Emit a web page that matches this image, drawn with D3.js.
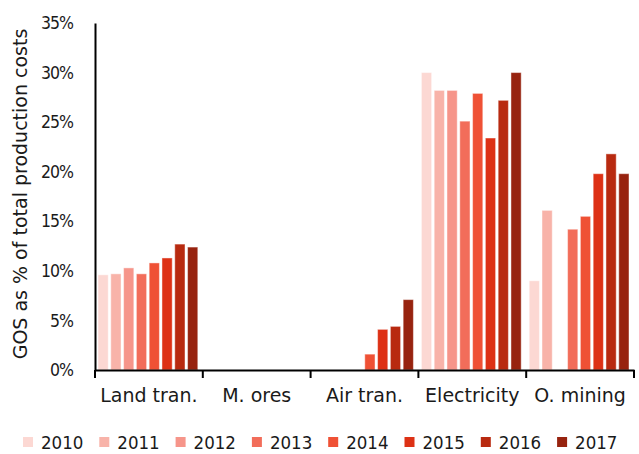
<!DOCTYPE html>
<html><head><meta charset="utf-8">
<script src="https://cdn.jsdelivr.net/npm/d3@7"></script>
<style>body{margin:0;background:#fff}svg{display:block;font-family:"DejaVu Sans",sans-serif}</style>
</head><body><svg id="c" width="639" height="454"></svg>
<script>
const categories = ["Land tran.", "M. ores", "Air tran.", "Electricity", "O. mining"];
const years = ["2010","2011","2012","2013","2014","2015","2016","2017"];
const colors = ["#fcd8d3","#f8b3a9","#f6958a","#f26d5a","#ef5135","#dd3115","#b82a10","#97230f"];
const yTicks = [0,0.05,0.10,0.15,0.20,0.25,0.30,0.35];
// values per year, in category order (null = no data)
const v2010 = [0.096, null, null, 0.300, 0.090];
const v2011 = [0.097, null, null, 0.282, 0.161];
const v2012 = [0.103, null, null, 0.282, null];
const v2013 = [0.097, null, null, 0.251, 0.142];
const v2014 = [0.108, null, 0.016, 0.279, 0.155];
const v2015 = [0.113, null, 0.041, 0.234, 0.198];
const v2016 = [0.127, null, 0.044, 0.272, 0.218];
const v2017 = [0.124, null, 0.071, 0.300, 0.198];
const series = [v2010,v2011,v2012,v2013,v2014,v2015,v2016,v2017];

const COND = '"DejaVu Sans Condensed","DejaVu Sans",sans-serif';
const REG = '"DejaVu Sans",sans-serif';
const svg = d3.select("#c");
const mLeft = 95, mRight = 634, mTop = 23, mBottom = 370;
const x0 = d3.scaleBand().domain(categories).range([mLeft, mRight]).padding(0);
const x1 = d3.scaleBand().domain(years).range([3, x0.bandwidth()-5]).paddingInner(0.2).paddingOuter(0);
const y = d3.scaleLinear().domain([0,0.35]).range([mBottom, mTop]);

const data = [];
categories.forEach((c,i)=>years.forEach((yr,j)=>{ if(series[j][i]!=null) data.push({c,yr,v:series[j][i],col:colors[j]}); }));

svg.append("g").selectAll("rect").data(data).join("rect")
  .attr("x", d=>x0(d.c)+x1(d.yr))
  .attr("y", d=>y(d.v))
  .attr("width", x1.bandwidth())
  .attr("height", d=>y(0)-y(d.v))
  .attr("fill", d=>d.col)
  .attr("stroke","#ffffff").attr("stroke-opacity",0.45).attr("stroke-width",1);

// y axis
const ya = svg.append("g").attr("transform",`translate(${mLeft},0)`)
  .call(d3.axisLeft(y).tickValues(yTicks).tickFormat(d3.format(".0%")).tickSize(0).tickPadding(22));
ya.select(".domain").attr("stroke","#000").attr("stroke-width",2);
ya.selectAll("text").attr("font-size",17.5).attr("letter-spacing",-1).attr("fill","#1a1a1a").attr("font-family",COND);

// x axis
const xa = svg.append("g").attr("transform",`translate(0,${mBottom})`)
  .call(d3.axisBottom(x0).tickSize(0).tickPadding(19));
xa.select(".domain").attr("stroke","#000").attr("stroke-width",2);
xa.selectAll("text").attr("font-size",19).attr("fill","#1a1a1a").attr("font-family",REG);
const bnds = categories.map(c=>x0(c)).concat([mRight]);
xa.append("g").selectAll("line").data(bnds).join("line")
  .attr("x1",d=>d).attr("x2",d=>d).attr("y1",0).attr("y2",8)
  .attr("stroke","#000").attr("stroke-width",2);

svg.append("text").attr("transform","translate(20,194) rotate(-90)")
  .attr("text-anchor","middle").attr("dy","0.35em").attr("font-size",19).attr("fill","#1a1a1a")
  .attr("font-family",REG)
  .text("GOS as % of total production costs");

// legend
const lg = svg.append("g").selectAll("g").data(years).join("g")
  .attr("transform",(d,i)=>`translate(${23+i*76.3},442)`);
lg.append("rect").attr("x",0).attr("y",-5).attr("width",10).attr("height",10).attr("fill",(d,i)=>colors[i]);
lg.append("text").attr("x",18).attr("y",0).attr("dy","0.36em").attr("font-size",18.5).attr("fill","#1a1a1a")
  .attr("font-family",COND).text(d=>d);
</script></body></html>
